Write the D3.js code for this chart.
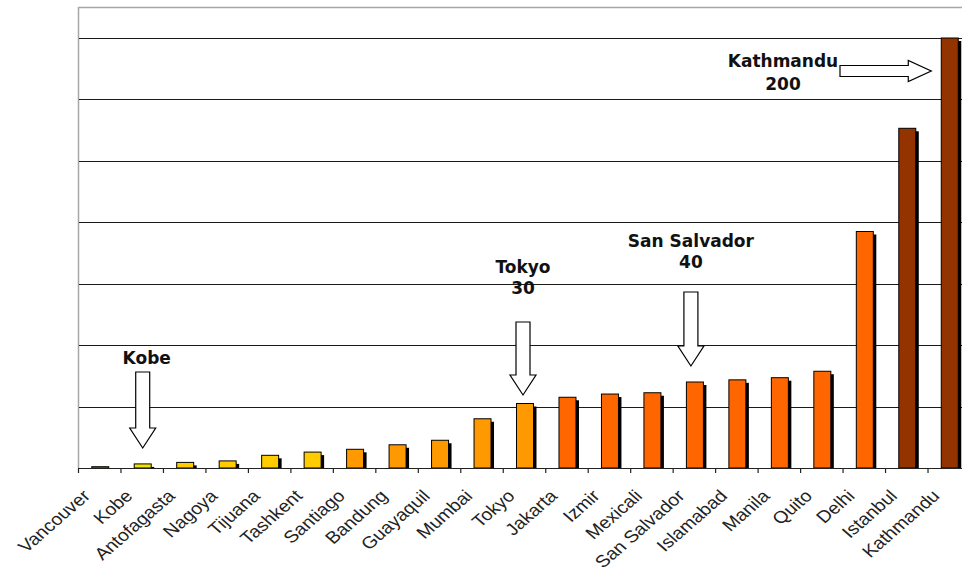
<!DOCTYPE html>
<html>
<head>
<meta charset="utf-8">
<script src="https://cdn.jsdelivr.net/npm/d3@7"></script>
<style>
  html, body { margin: 0; padding: 0; background: #fff; }
  svg { display: block; }
</style>
</head>
<body>
<svg id="chart" width="962" height="572"></svg>
<script>
// Cities, ordered from lowest to highest value
const cities = ["Vancouver", "Kobe", "Antofagasta", "Nagoya", "Tijuana", "Tashkent",
  "Santiago", "Bandung", "Guayaquil", "Mumbai", "Tokyo", "Jakarta", "Izmir",
  "Mexicali", "San Salvador", "Islamabad", "Manila", "Quito", "Delhi",
  "Istanbul", "Kathmandu"];
const values = [0.6, 1.9, 2.6, 3.3, 5.9, 7.4, 8.7, 10.8, 12.9, 22.9, 30, 32.9, 34.4,
  35.0, 40, 41, 42, 45, 110, 158, 200];
// colour band each city falls into (index into tierColors)
const tiers = [0, 0, 1, 1, 1, 1, 2, 2, 2, 2, 2, 3, 3, 3, 3, 3, 3, 3, 3, 4, 4];
const tierColors = ["#f2e400", "#ffcc00", "#ff9900", "#ff6600", "#933300"];
// unlabelled horizontal gridlines
const gridValues = [28.57, 57.14, 85.71, 114.29, 142.86, 171.43, 200];
// callouts: city and the text lines above its arrow
const callouts = [
  { city: "Kobe", lines: ["Kobe"] },
  { city: "Tokyo", lines: ["Tokyo", "30"] },
  { city: "San Salvador", lines: ["San Salvador", "40"] }
];
const sideCallout = { city: "Kathmandu", lines: ["Kathmandu", "200"] };

const svg = d3.select("#chart");
const plotLeft = 79, plotRight = 971, plotTop = 7, base = 468;

const x = d3.scaleBand().domain(cities).range([plotLeft, plotRight]).paddingInner(0.6).paddingOuter(0.3);
const step = x.step();
const y = d3.scaleLinear().domain([0, 200 * (base - plotTop) / (base - 38)]).range([base, plotTop]);

// plot frame (top and left)
svg.append("line").attr("x1", plotLeft - 0.5).attr("x2", 962).attr("y1", plotTop + 0.5).attr("y2", plotTop + 0.5)
  .attr("stroke", "#a6a6a6").attr("stroke-width", 1.5);
svg.append("line").attr("x1", plotLeft - 0.5).attr("x2", plotLeft - 0.5).attr("y1", plotTop).attr("y2", base)
  .attr("stroke", "#a6a6a6").attr("stroke-width", 1.5);

// gridlines
svg.append("g").selectAll("line").data(gridValues).join("line")
  .attr("x1", plotLeft).attr("x2", 962)
  .attr("y1", d => Math.round(y(d)) + 0.5).attr("y2", d => Math.round(y(d)) + 0.5)
  .attr("stroke", "#1a1a1a").attr("stroke-width", 1.2);

// bar shadows, then bars
const idx = cities.map((c, i) => i);
svg.append("g").selectAll("rect").data(idx).join("rect")
  .attr("x", i => x(cities[i]) + 3)
  .attr("y", i => Math.min(y(values[i]) + 3, base))
  .attr("width", x.bandwidth())
  .attr("height", i => Math.max(0, base - Math.min(y(values[i]) + 3, base)))
  .attr("fill", "#000");
svg.append("g").selectAll("rect").data(idx).join("rect")
  .attr("x", i => x(cities[i]))
  .attr("y", i => y(values[i]))
  .attr("width", x.bandwidth())
  .attr("height", i => base - y(values[i]))
  .attr("fill", i => tierColors[tiers[i]])
  .attr("stroke", "#000").attr("stroke-width", 1);

// category axis
const xAxis = svg.append("g").attr("transform", `translate(0,${base})`);
xAxis.append("line").attr("x1", plotLeft - 1).attr("x2", 962).attr("y1", 0.5).attr("y2", 0.5)
  .attr("stroke", "#222").attr("stroke-width", 1.2);
xAxis.selectAll("line.tick").data(d3.range(cities.length + 1)).join("line")
  .attr("class", "tick")
  .attr("x1", i => plotLeft - 0.5 + i * step).attr("x2", i => plotLeft - 0.5 + i * step)
  .attr("y1", 0).attr("y2", 5)
  .attr("stroke", "#222").attr("stroke-width", 1.2);
xAxis.selectAll("text").data(cities).join("text")
  .attr("transform", d => `translate(${x(d) + x.bandwidth() / 2 - 9},${29}) scale(1.15,1) rotate(-45)`)
  .attr("text-anchor", "end")
  .attr("font-family", "Liberation Sans, Arial, sans-serif")
  .attr("font-size", 17)
  .attr("fill", "#222")
  .text(d => d);

// block arrow outlines
function downArrow(cx, yTop, yTip) {
  const sw = 7, hw = 13, hl = 20;
  const yh = yTip - hl;
  return `M${cx - sw},${yTop}H${cx + sw}V${yh}H${cx + hw}L${cx},${yTip}L${cx - hw},${yh}H${cx - sw}Z`;
}
function rightArrow(xStart, xTip, cy) {
  const sw = 5.5, hw = 10.5, hl = 23;
  const xh = xTip - hl;
  return `M${xStart},${cy - sw}H${xh}V${cy - hw}L${xTip},${cy}L${xh},${cy + hw}V${cy + sw}H${xStart}Z`;
}

const labelFont = { family: "DejaVu Sans, sans-serif", size: 17 };
const calloutLayout = {
  "Kobe": { textY: 364, arrowTop: 372, arrowTip: 448, dx: 0 },
  "Tokyo": { textY: 272.5, arrowTop: 322, arrowTip: 395, dx: -2 },
  "San Salvador": { textY: 246.5, arrowTop: 292, arrowTip: 366, dx: -4 }
};
const ann = svg.append("g");
callouts.forEach(c => {
  const L = calloutLayout[c.city];
  const cx = x(c.city) + x.bandwidth() / 2 + L.dx;
  const t = ann.append("text")
    .attr("text-anchor", "middle")
    .attr("font-family", labelFont.family).attr("font-size", labelFont.size)
    .attr("font-weight", "bold").attr("fill", "#111");
  c.lines.forEach((ln, k) => t.append("tspan").attr("x", cx + (c.city === "Kobe" ? 4 : 0)).attr("y", L.textY + k * 21.5).text(ln));
  ann.append("path").attr("d", downArrow(cx, L.arrowTop, L.arrowTip))
    .attr("fill", "#fff").attr("stroke", "#000").attr("stroke-width", 1.2);
});

// horizontal callout pointing at the tallest bar
{
  const xTip = x(sideCallout.city) - 10;
  const t = ann.append("text")
    .attr("text-anchor", "middle")
    .attr("font-family", labelFont.family).attr("font-size", labelFont.size)
    .attr("font-weight", "bold").attr("fill", "#111");
  sideCallout.lines.forEach((ln, k) => t.append("tspan").attr("x", 783).attr("y", 66.5 + k * 23).text(ln));
  ann.append("path").attr("d", rightArrow(840, xTip, 71))
    .attr("fill", "#fff").attr("stroke", "#000").attr("stroke-width", 1.2);
}
</script>
</body>
</html>
